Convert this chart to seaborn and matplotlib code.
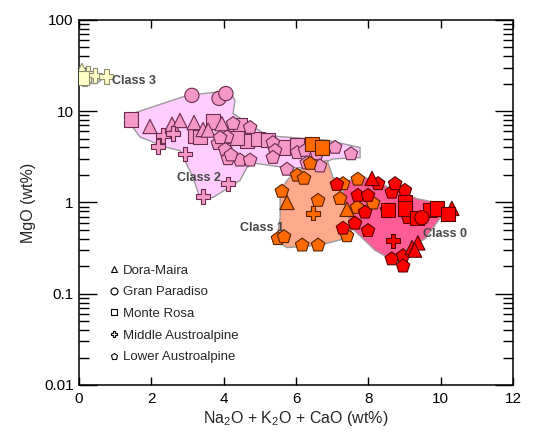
import numpy as np
import pandas as pd
import matplotlib
matplotlib.use("Agg")
import matplotlib.pyplot as plt
import seaborn as sns
from matplotlib.lines import Line2D
from matplotlib.ticker import FixedLocator, LogLocator, NullFormatter, FuncFormatter

sns.set_style("ticks")
plt.rcParams["font.family"] = ["Liberation Sans", "DejaVu Sans"]
plt.rcParams["mathtext.fontset"] = "custom"
plt.rcParams["mathtext.rm"] = "Liberation Sans"
plt.rcParams["mathtext.it"] = "Liberation Sans:italic"
plt.rcParams.update({
    "xtick.direction": "in", "ytick.direction": "in",
    "xtick.top": True, "ytick.right": True,
    "xtick.major.size": 6, "ytick.major.size": 13, "ytick.minor.size": 7,
    "xtick.major.width": 1, "ytick.major.width": 1, "ytick.minor.width": 1,
    "xtick.color": "black", "ytick.color": "black",
})

# localities: DM Dora-Maira, GP Gran Paradiso, MR Monte Rosa, MA Middle Austroalpine, LA Lower Austroalpine
# ---- Class 3 ----
c3_x = [0.08, 0.25, 0.44, 0.75, 0.14, 0.08]
c3_y = [28, 26, 24.6, 24, 22.3, 23]
c3_loc = ["DM", "MA", "MA", "MA", "MA", "MR"]

# ---- Class 2 ----
c2_x = [1.44, 3.2, 3.7, 4.23, 4.45, 4.64, 4.95, 5.23, 5.64, 6.03, 3.34, 4.37,
        3.12, 3.87, 4.06,
        1.96, 2.57, 2.79, 3.18, 3.43, 3.57, 3.95,
        2.32, 2.6, 2.18, 2.93, 4.12, 3.43,
        4.26, 4.73, 3.84, 4.09, 4.04, 4.12, 4.45, 4.73, 5.36, 5.42, 5.36, 5.75,
        6.03, 6.25, 6.3, 6.58, 6.66, 7.08, 7.52, 3.9, 4.2]
c2_y = [8.1, 5.3, 7.7, 5.4, 7.0, 4.7, 5.0, 4.8, 4.0, 4.2, 5.2, 5.1,
        14.9, 13.8, 15.6,
        6.8, 7.2, 7.9, 7.5, 6.3, 6.2, 7.3,
        5.4, 5.7, 4.1, 3.4, 1.6, 1.16,
        7.3, 6.6, 4.4, 5.2, 3.8, 3.0, 2.9, 2.9, 4.5, 3.7, 3.1, 2.3,
        3.5, 3.7, 2.7, 3.4, 2.5, 4.0, 3.4, 5.1, 3.3]
c2_loc = ["MR"] * 12 + ["GP"] * 3 + ["DM"] * 7 + ["MA"] * 6 + ["LA"] * 21

# ---- Class 1 ----
c1_x = [5.61, 6.03, 6.22, 6.39, 6.61, 7.22, 7.30, 7.71, 8.13, 7.69, 7.41, 5.50,
        5.67, 6.17, 6.61,
        5.75, 7.41,
        6.47,
        6.44, 6.72]
c1_y = [1.32, 1.98, 1.83, 2.67, 1.05, 1.1, 1.6, 1.79, 0.98, 0.88, 0.43, 0.40,
        0.42, 0.34, 0.34,
        1.0, 0.84,
        0.76,
        4.4, 4.0]
c1_loc = ["LA"] * 15 + ["DM"] * 2 + ["MA"] + ["MR"] * 2

# ---- Class 0 ----
c0_x = [7.13, 7.71, 7.99, 7.91, 7.63, 7.99, 8.65, 9.01, 8.52, 9.1, 8.65, 8.96,
        8.96, 8.27, 8.74, 7.3,
        8.1, 9.21, 9.37, 10.31, 9.28,
        8.54, 9.01, 9.01, 9.7, 9.9, 10.2, 9.34,
        9.48,
        8.68]
c0_y = [1.57, 1.19, 1.19, 0.78, 0.59, 0.49, 1.29, 1.35, 0.82, 0.68, 0.24, 0.26,
        0.2, 1.6, 1.6, 0.52,
        1.83, 0.32, 0.36, 0.86, 0.30,
        0.82, 1.0, 0.86, 0.82, 0.86, 0.74, 0.67,
        0.68,
        0.38]
c0_loc = ["LA"] * 16 + ["DM"] * 5 + ["MR"] * 7 + ["GP"] + ["MA"]

# ---- field outlines (wt%) ----
f3_x = [0.14, 0.58, 0.64, 0.47, 0.25, 0.11]
f3_y = [26.6, 25.3, 22.3, 20.1, 20.1, 22.3]
f2_x = [1.41, 1.47, 2.99, 3.70, 4.17, 4.31, 4.26, 5.2, 6.86, 7.77, 7.77, 7.02,
        6.47, 5.75, 4.81, 4.64, 4.45, 3.70, 3.35, 3.15, 2.79, 2.43, 1.69]
f2_y = [7.3, 9.4, 14.9, 16.0, 16.9, 13.1, 9.4, 5.4, 4.8, 4.0, 3.1, 3.0,
        2.4, 2.4, 2.7, 2.4, 1.74, 1.13, 1.1, 1.88, 3.7, 4.0, 5.2]
f1_x = [6.03, 6.86, 7.02, 7.49, 7.58, 7.63, 7.44, 6.66, 5.75, 5.47, 5.56, 5.56, 5.75]
f1_y = [2.24, 2.9, 1.88, 1.46, 0.93, 0.59, 0.41, 0.34, 0.32, 0.38, 0.68, 1.35, 1.74]
f0_x = [7.44, 7.91, 8.32, 9.34, 9.98, 10.04, 9.57, 8.6, 8.18, 7.55, 7.35, 7.30]
f0_y = [1.74, 1.88, 1.6, 1.1, 0.98, 0.72, 0.40, 0.24, 0.30, 0.52, 0.93, 1.35]

loc_names = {"DM": "Dora-Maira", "GP": "Gran Paradiso", "MR": "Monte Rosa",
             "MA": "Middle Austroalpine", "LA": "Lower Austroalpine"}
markers = {"DM": "^", "GP": "o", "MR": "s", "MA": "P", "LA": "p"}

classes = [
    ("Class 3", c3_x, c3_y, c3_loc, "#ffffc8", "#8f8f70", f3_x, f3_y, "#c9dcdc", (0.9, 21.5)),
    ("Class 2", c2_x, c2_y, c2_loc, "#f598c8", "#6a2c4e", f2_x, f2_y, "#ffccff", (2.7, 1.85)),
    ("Class 1", c1_x, c1_y, c1_loc, "#ff6a00", "#5a2200", f1_x, f1_y, "#fdaa8c", (4.45, 0.53)),
    ("Class 0", c0_x, c0_y, c0_loc, "#ff0000", "#5a0000", f0_x, f0_y, "#ff4b8c", (9.5, 0.45)),
]

fig = plt.figure(figsize=(5.38, 4.42), dpi=100)
ax = fig.add_axes([0.147, 0.129, 0.8065, 0.826])

# fields
for i, (name, xs, ys, locs, fc, ec, fx, fy, fill, lab) in enumerate(classes):
    ax.fill(fx, fy, facecolor=fill, edgecolor="#9a9a9a", linewidth=1.0,
            alpha=0.9 if name == "Class 0" else 1.0, zorder=1 + i * 0.1)

# samples
for i, (name, xs, ys, locs, fc, ec, fx, fy, fill, lab) in enumerate(classes):
    df = pd.DataFrame({"x": xs, "y": ys, "loc": locs})
    sns.scatterplot(data=df, x="x", y="y", style="loc", markers=markers,
                    color=fc, edgecolor=ec, linewidth=0.8, s=105, legend=False,
                    ax=ax, zorder=3 + i)
    ax.text(lab[0], lab[1], name, fontsize=9, fontweight="bold", color="#474747",
            va="center", ha="left", zorder=10)

ax.set_yscale("log")
ax.set_xlim(0, 12)
ax.set_ylim(0.01, 100)
ax.xaxis.set_major_locator(FixedLocator([0, 2, 4, 6, 8, 10, 12]))
ax.yaxis.set_major_locator(LogLocator(base=10, numticks=10))
ax.yaxis.set_minor_locator(LogLocator(base=10, subs=np.arange(2, 10), numticks=20))
ax.yaxis.set_minor_formatter(NullFormatter())
ax.yaxis.set_major_formatter(FuncFormatter(lambda v, p: f"{v:g}"))

ax.tick_params(axis="x", which="major", direction="in", length=6, width=1,
               top=True, bottom=True, labelsize=11, pad=5, color="black")
ax.tick_params(axis="y", which="major", direction="in", length=13, width=1,
               left=True, right=True, labelsize=11, pad=4, color="black")
ax.tick_params(axis="y", which="minor", direction="in", length=7, width=1,
               left=True, right=True, color="black")
for sp in ax.spines.values():
    sp.set_linewidth(1.1)
    sp.set_color("black")

ax.set_xlabel(r"Na$_2$O + K$_2$O + CaO (wt%)", fontsize=11.5, labelpad=2)
ax.set_ylabel("MgO (wt%)", fontsize=11.5, labelpad=6)

handles = [Line2D([], [], linestyle="none", marker=markers[k], markersize=5,
                  markerfacecolor="none", markeredgecolor="black", markeredgewidth=0.8,
                  label=loc_names[k]) for k in ["DM", "GP", "MR", "MA", "LA"]]
ax.legend(handles=handles, loc="upper left", bbox_to_anchor=(0.055, 0.345),
          frameon=False, fontsize=9.5, handlelength=0.8, handletextpad=0.3,
          labelspacing=0.72, borderaxespad=0)

fig.savefig("out.png", dpi=100)
